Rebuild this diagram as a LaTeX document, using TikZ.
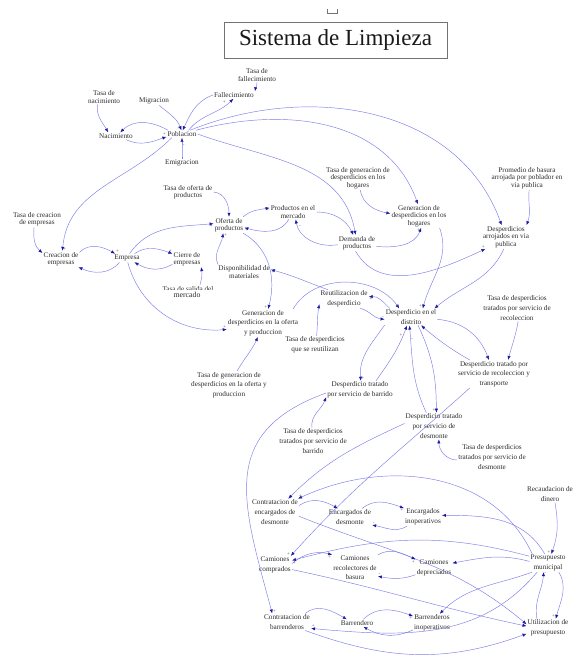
\documentclass[tikz,border=0pt]{standalone}
\usepackage{fontspec}
\setmainfont{Liberation Serif}
\usetikzlibrary{arrows.meta}
\definecolor{lineblue}{RGB}{125,125,235}
\definecolor{tipblue}{RGB}{25,25,165}
\definecolor{txt}{RGB}{45,45,45}
\begin{document}
\begin{tikzpicture}[x=1pt,y=1pt,
  vt/.style={align=center,inner sep=1pt,text=txt,font=\fontsize{7.2}{7.4}\selectfont},
  vb/.style={align=center,inner sep=1pt,text=txt,font=\fontsize{7.2}{9.6}\selectfont},
  cl/.style={draw=lineblue,line width=.45pt,-{Latex[length=4pt,width=3.2pt,color=tipblue]}},
  sg/.style={font=\fontsize{5}{5}\selectfont,text=black!65,inner sep=.6pt},
]
\useasboundingbox[fill=white] (0,0) rectangle (578,-662);

% title
\node[draw=black!55,line width=.5pt,minimum width=223pt,minimum height=36pt,inner sep=0pt,
      font=\fontsize{23}{26}\selectfont,text=black!90] (title) at (335.5,-40) {Sistema de Limpieza};
\draw[black!55,line width=.5pt] (327,-9) -- (327,-13.5) -- (337,-13.5) -- (337,-9);

% population and firms
\node[vt] (tfall) at (257,-75) {Tasa de\\fallecimiento};
\node[vt] (fall) at (234,-95) {Fallecimiento};
\node[vt] (tnac) at (104,-97) {Tasa de\\nacimiento};
\node[vt] (migr) at (154,-101) {Migracion};
\node[vt] (pob) at (182,-134) {Poblacion};
\node[vt] (nac) at (116,-136) {Nacimiento};
\node[vt] (emig) at (182,-163) {Emigracion};
\node[vt] (tofe) at (188,-192) {Tasa de oferta de\\productos};
\node[vt] (prodm) at (293,-212) {Productos en el\\mercado};
\node[vt] (ofe) at (229,-225) {Oferta de\\productos};
\node[vt] (tcre) at (37,-219) {Tasa de creacion\\de empresas};
\node[vt] (cre) at (61,-259) {Creacion de\\empresas};
\node[vt] (emp) at (127,-258) {Empresa};
\node[vt] (cie) at (187,-259) {Cierre de\\empresas};
\node[vt] (disp) at (244,-272) {Disponibilidad de\\materiales};
\node[vt] (dem) at (357,-243) {Demanda de\\productos};
\node[vt] (tgh) at (358,-178) {Tasa de generacion de\\desperdicios en los\\hogares};
\node[vt] (gh) at (419,-216) {Generacion de\\desperdicios en los\\hogares};
\node[vt] (prom) at (527,-178) {Promedio de basura\\arrojada por poblador en\\via publica};
\node[vt] (darr) at (506,-237) {Desperdicios\\arrojados en via\\publica};
\begin{scope}
  \clip (150,-282) rectangle (230,-289.4);
  \node[vt,anchor=base] (tsal) at (188,-291) {Tasa de salida del};
\end{scope}
\node[vt,anchor=base,font=\fontsize{7.8}{8}\selectfont] (merc) at (187,-297) {mercado};

% waste
\node[vb] (gof) at (263,-323) {Generacion de\\desperdicios en la oferta\\y produccion};
\node[vb] (reu) at (344,-299) {Reutilizacion de\\desperdicio};
\node[vb] (ddis) at (411,-317) {Desperdicio en el\\distrito};
\node[vb] (treu) at (315,-345) {Tasa de desperdicios\\que se reutilizan};
\node[vb] (trec) at (517,-308) {Tasa de desperdicios\\tratados por servicio de\\recoleccion};
\node[vb] (drec) at (494,-374) {Desperdicio tratado por\\servicio de recoleccion y\\transporte};
\node[vb] (tgof) at (229,-385) {Tasa de generacion de\\desperdicios en la oferta y\\produccion};
\node[vb] (dbar) at (360,-390) {Desperdicio tratado\\por servicio de barrido};
\node[vb] (ddes) at (434,-426) {Desperdicio tratado\\por servicio de\\desmonte};
\node[vb] (tbar) at (313,-441) {Tasa de desperdicios\\tratados por servicio de\\barrido};
\node[vb] (tdes) at (492,-457) {Tasa de desperdicios\\tratados por servicio de\\desmonte};

% budget and resources
\node[vb] (rec) at (550,-494) {Recaudacion de\\dinero};
\node[vb] (cenc) at (275,-512) {Contratacion de\\encargados de\\desmonte};
\node[vb] (enc) at (350,-517) {Encargados de\\desmonte};
\node[vb] (einop) at (423,-517) {Encargados\\inoperativos};
\node[vb] (pres) at (548,-563) {Presupuesto\\municipal};
\node[vb] (ccom) at (275,-565) {Camiones\\comprados};
\node[vb] (crec) at (355,-568) {Camiones\\recolectores de\\basura};
\node[vb] (cdep) at (434,-568) {Camiones\\depreciados};
\node[vb] (cbar) at (287,-622) {Contratacion de\\barrenderos};
\node[vb] (barr) at (357,-623) {Barrendero};
\node[vb] (binop) at (432,-623) {Barrenderos\\inoperativos};
\node[vb] (util) at (548,-628) {Utilizacion de\\presupuesto};

% population links
\draw[cl] (tnac.230) to[out=-100,in=120] (nac.155);
\draw[cl] (nac.-20) to[out=-25,in=200] node[sg,at end,above left]{+} (pob.190);
\draw[cl] (pob.165) to[out=150,in=45] (nac.40);
\draw[cl] (migr.-40) to[out=-40,in=110] node[sg,at end,above left]{+} (pob.100);
\draw[cl] (fall.west) to[out=200,in=65] node[sg,at end,above right]{-} (pob.80);
\draw[cl] (pob.30) to[out=50,in=225] node[sg,pos=.85,above left]{+} (fall.-100);
\draw[cl] (tfall.south) to[out=-90,in=80] (fall.north east);
\draw[cl] (emig.north) to[out=90,in=-90] node[sg,pos=.6,right]{-} (pob.south);
\draw[cl] (pob.200) to[out=225,in=85] node[sg,at end,above right]{+} (cre.80);
\draw[cl] (pob.east) to[out=-20,in=100] node[sg,at end,above left]{+} (dem.100);
\draw[cl] (pob.15) to[out=15,in=110] node[sg,at end,above left]{+} (gh.95);
\draw[cl] (pob.25) to[out=22,in=110] node[sg,at end,above left]{+} (darr.110);

% products and firms
\draw[cl] (tofe.east) to[out=-5,in=90] (ofe.north);
\draw[cl] (ofe.30) to[out=40,in=190] node[sg,at end,below left]{+} (prodm.170);
\draw[cl] (prodm.-120) to[out=-120,in=-15] node[sg,at end,below right]{+} (ofe.-10);
\draw[cl] (emp.60) to[out=55,in=185] node[sg,at end,below left]{+} (ofe.175);
\draw[cl] (disp.164) to[out=115,in=-100] node[sg,at end,below right]{+} (ofe.-125);
\draw[cl] (dem.185) to[out=190,in=-80] node[sg,pos=.85,right]{-} (prodm.-70);
\draw[cl] (prodm.east) to[out=0,in=115] (dem.115);
\draw[cl] (dem.-10) to[out=-5,in=-110] node[sg,at end,below left]{+} (gh.-80);
\draw[cl] (tgh.-80) to[out=-80,in=170] (gh.175);
\draw[cl] (dem.-100) to[out=-60,in=205] node[sg,at end,above left]{+} (darr.-150);
\draw[cl] (prom.-80) to[out=-95,in=70] (darr.30);
\draw[cl] (gh.-30) to[out=-70,in=75] node[sg,at end,above left]{+} (ddis.36);
\draw[cl] (darr.-100) to[out=-115,in=40] node[sg,at end,above right]{+} (ddis.20);
\draw[cl] (tcre.-110) to[out=-95,in=140] (cre.162);
\draw[cl] (cre.20) to[out=45,in=150] node[sg,at end,above right]{+} (emp.160);
\draw[cl] (emp.-150) to[out=-130,in=-25] node[sg,at end,below right]{+} (cre.-25);
\draw[cl] (emp.30) to[out=35,in=160] node[sg,at end,above left]{+} (cie.160);
\draw[cl] (cie.-160) to[out=-150,in=-30] node[sg,at end,below right]{-} (emp.-30);
\draw[cl] ([xshift=12pt]tsal.north) to[out=75,in=-80] (cie.-30);
\draw[cl] (emp.-80) to[out=-75,in=185] node[sg,at end,above left]{+} (gof.190);
\draw[cl] (ofe.-30) to[out=-30,in=75] node[sg,at end,above left]{+} (gof.70);
\draw[cl] (reu.150) to[out=160,in=-15] node[sg,at end,below right]{+} (disp.5);

% waste in the district
\draw[cl] (gof.25) to[out=60,in=125] node[sg,at end,above left]{+} (ddis.144);
\draw[cl] (ddis.158) to[out=135,in=5] node[sg,at end,below right]{+} (reu.5);
\draw[cl] (reu.-30) to[out=-15,in=175] node[sg,at end,above left]{-} (ddis.185);
\draw[cl] (treu.80) to[out=85,in=-100] (reu.-168);
\draw[cl] (tgof.60) to[out=60,in=-115] (gof.-110);
\draw[cl] (ddis.-5) to[out=-5,in=110] node[sg,at end,above left]{+} (drec.110);
\draw[cl] (trec.-85) to[out=-100,in=75] (drec.45);
\draw[cl] (drec.150) to[out=150,in=-40] node[sg,at end,below right]{-} (ddis.-40);
\draw[cl] (ddis.-163) to[out=-125,in=95] node[sg,at end,above right]{+} (dbar.85);
\draw[cl] (dbar.30) to[out=55,in=-110] node[sg,pos=.85,left]{+} (ddis.-115);
\draw[cl] (ddis.-50) to[out=-65,in=90] node[sg,at end,above left]{+} (ddes.80);
\draw[cl] (ddes.120) to[out=115,in=-85] node[sg,pos=.85,right]{-} (ddis.-100);
\draw[cl] (tbar.95) to[out=95,in=-110] (dbar.-168);
\draw[cl] (tdes.185) to[out=180,in=-90] (ddes.-70);

% services, staff and budget
\draw[cl] (dbar.185) to[out=200,in=105,looseness=1.3] node[sg,at end,above right]{+} (cbar.150);
\draw[cl] (ddes.175) to[out=205,in=45] (cenc.45);
\draw[cl] (drec.-150) to[out=222,in=48] node[sg,at end,above left]{+} (ccom.30);
\draw[cl] (pres.150) to[out=115,in=25] node[sg,at end,above right]{+} (cenc.30);
\draw[cl] (cenc.15) to[out=35,in=150] node[sg,at end,above left]{+} (enc.145);
\draw[cl] (enc.35) to[out=40,in=160] node[sg,at end,below left]{+} (einop.155);
\draw[cl] (einop.-150) to[out=-150,in=-10] node[sg,at end,above right]{-} (enc.-20);
\draw[cl] (pres.110) to[out=120,in=0] node[sg,at end,below right]{-} (einop.5);
\draw[cl] (cenc.-10) to[out=-22,in=140] (util.170);
\draw[cl] (ccom.5) to[out=40,in=165] node[sg,at end,below left]{+} (crec.150);
\draw[cl] (crec.30) to[out=30,in=155] node[sg,at end,below left]{+} (cdep.155);
\draw[cl] (cdep.-160) to[out=-160,in=-10] node[sg,at end,above right]{-} (crec.-20);
\draw[cl] (pres.175) to[out=165,in=10] node[sg,at end,below right]{-} (cdep.15);
\draw[cl] (pres.160) to[out=165,in=15] node[sg,at end,below right]{+} (ccom.15);
\draw[cl] (ccom.-15) to[out=-12,in=168] node[sg,at end,above left]{+} (util.175);
\draw[cl] (cbar.25) to[out=40,in=150] (barr.160);
\draw[cl] (barr.30) to[out=45,in=160] node[sg,at end,below left]{+} (binop.160);
\draw[cl] (binop.-160) to[out=-155,in=-30] (barr.-30);
\draw[cl] (pres.-150) to[out=-160,in=45] (binop.50);
\draw[cl] (pres.-140) to[out=-130,in=-5] node[sg,at end,above right]{+} (cbar.-15);
\draw[cl] (cbar.-25) to[out=-20,in=-160] node[sg,at end,below left]{+} (util.-165);
\draw[cl] (pres.-40) to[out=-60,in=75] node[sg,at end,above left]{+} (util.50);
\draw[cl] (util.140) to[out=100,in=-95] node[sg,at end,below right]{-} (pres.-115);
\draw[cl] (rec.-60) to[out=-80,in=70] node[sg,at end,above left]{+} (pres.70);
\end{tikzpicture}
\end{document}
